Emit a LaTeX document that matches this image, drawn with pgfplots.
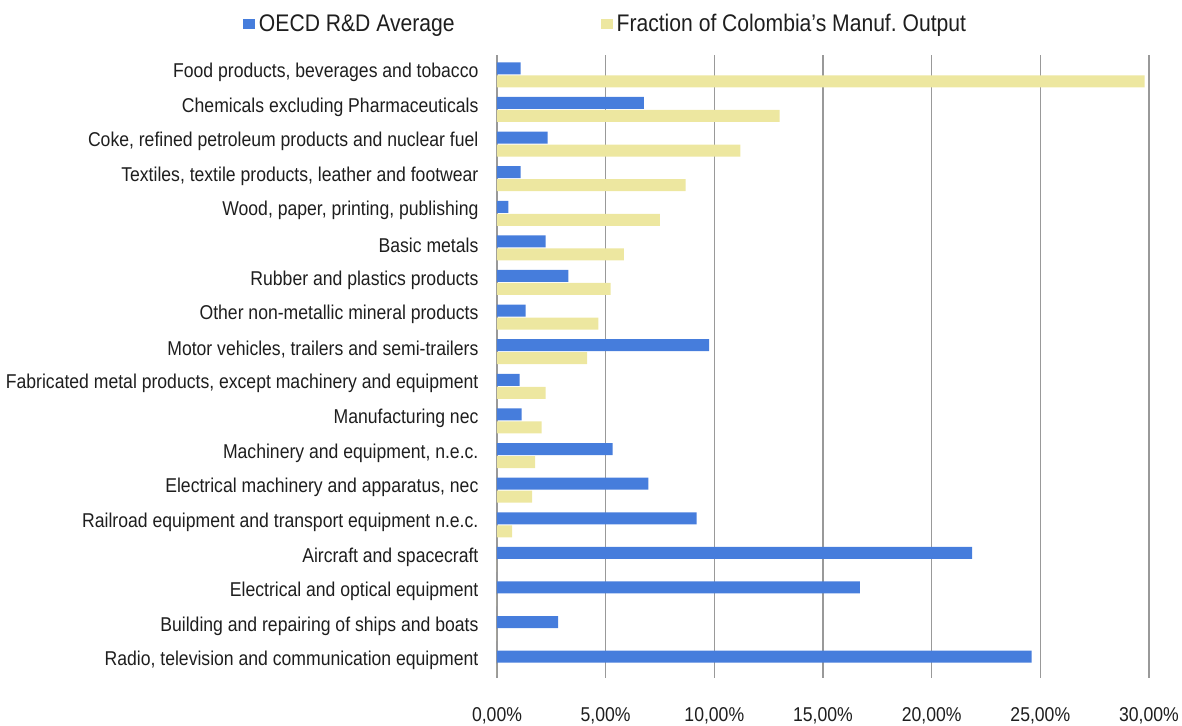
\documentclass[border=0pt]{standalone}
\usepackage{pgfplots}
\pgfplotsset{compat=1.18}
\usepackage{fontspec}
\setmainfont{Liberation Sans}[FakeStretch=0.88]
\definecolor{oecdblue}{RGB}{70,125,220}
\definecolor{colyellow}{RGB}{237,231,160}
\definecolor{txt}{RGB}{30,30,30}
\begin{document}
\begin{tikzpicture}
\begin{axis}[
  scale only axis, width=326pt, height=311.5pt,
  xbar, bar width=6pt,
  y dir=reverse,
  xmin=0, xmax=30, ymin=-0.5, ymax=17.5,
  ytick={0,...,17},
  yticklabels={{Food products, beverages and tobacco},{Chemicals excluding Pharmaceuticals},{Coke, refined petroleum products and nuclear fuel},{Textiles, textile products, leather and footwear},{Wood, paper, printing, publishing},{Basic metals},{Rubber and plastics products},{Other non-metallic mineral products},{Motor vehicles, trailers and semi-trailers},{Fabricated metal products, except machinery and equipment},{Manufacturing nec},{Machinery and equipment, n.e.c.},{Electrical machinery and apparatus, nec},{Railroad equipment and transport equipment n.e.c.},{Aircraft and spacecraft},{Electrical and optical equipment},{Building and repairing of ships and boats},{Radio, television and communication equipment}},
  xtick={0,5,10,15,20,25,30},
  xticklabels={{0,00\%},{5,00\%},{10,00\%},{15,00\%},{20,00\%},{25,00\%},{30,00\%}},
  xmajorgrids, grid style={gray!80, line width=0.6pt},
  axis line style={draw=none}, tick style={draw=none},
  ticklabel style={font=\fontsize{10}{11}\selectfont, text=txt},
  xticklabel style={yshift=-11pt},
  yticklabel style={xshift=-1.5pt},
  legend style={at={(0.168,1.049)}, anchor=center, draw=none, fill=none,
    font=\fontsize{12}{13}\selectfont, text=txt,
    /tikz/every even column/.append style={column sep=71pt}},
  legend columns=2,
  legend image code/.code={\fill[#1] (0pt,-2.5pt) rectangle (6pt,2.5pt);},
]
\addplot[fill=oecdblue, draw=none, bar shift=2pt] coordinates {
(1.09,0) (6.76,1) (2.33,2) (1.09,3) (0.52,4) (2.24,5) (3.28,6) (1.32,7) (9.76,8)
(1.04,9) (1.13,10) (5.32,11) (6.96,12) (9.18,13) (21.86,14) (16.7,15) (2.81,16) (24.6,17)};
\addlegendentry{OECD R\&D Average}
\addplot[fill=colyellow, draw=none, bar shift=-4.5pt] coordinates {
(29.8,0) (13.0,1) (11.2,2) (8.68,3) (7.49,4) (5.84,5) (5.23,6) (4.66,7) (4.15,8)
(2.24,9) (2.05,10) (1.75,11) (1.62,12) (0.70,13) (0,14) (0,15) (0,16) (0,17)};
\addlegendentry{Fraction of Colombia's Manuf.\ Output}
\end{axis}
\pgfresetboundingbox
\path[use as bounding box] (-248.5pt,-23.5pt) rectangle (342.5pt,339pt);
\end{tikzpicture}
\end{document}
